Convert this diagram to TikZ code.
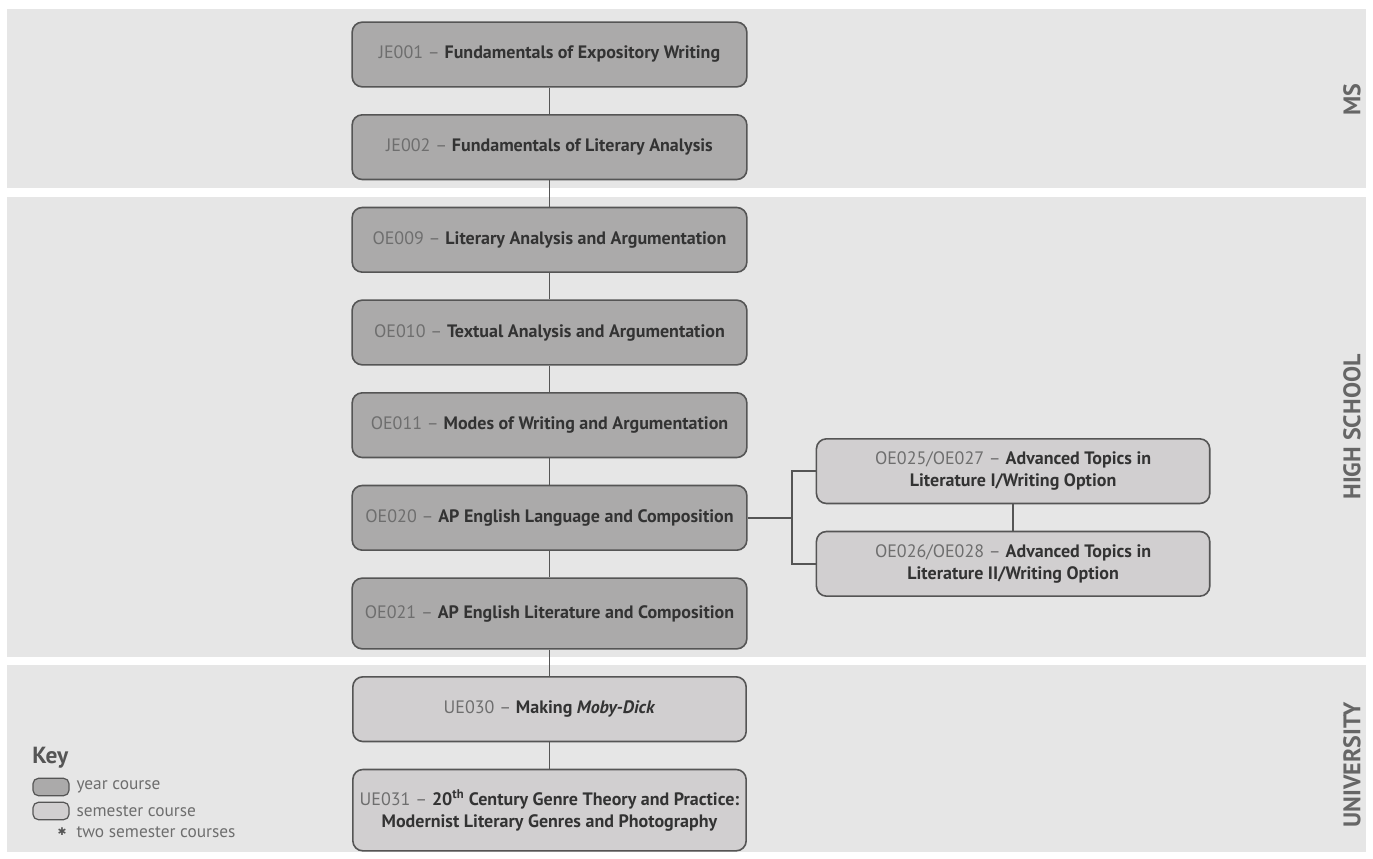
\documentclass[tikz,border=0pt]{standalone}
\usepackage{fontspec}
\setmainfont{PT Sans}
\newfontfamily\symfont{DejaVu Sans}
\usetikzlibrary{positioning}
\definecolor{band}{HTML}{E6E6E6}
\definecolor{yearfill}{HTML}{ABAAAA}
\definecolor{semfill}{HTML}{D1CFD0}
\definecolor{edgegray}{HTML}{555555}
\definecolor{codegray}{HTML}{6E6E6E}
\definecolor{titlegray}{HTML}{333333}

\begin{document}
\begin{tikzpicture}[
	x=0.75pt, y=-0.75pt,
	node distance=19.8pt and 51pt,
	course/.style = {draw=edgegray, line width=1.2pt, rounded corners=7.5pt,
		minimum width=296pt, minimum height=48.5pt, align=center,
		font=\fontsize{13.5}{16.5}\selectfont, text=titlegray},
	year/.style = {course, fill=yearfill},
	sem/.style = {course, fill=semfill, minimum width=295pt},
	link/.style = {draw=edgegray, line width=1.3pt},
	level/.style = {rotate=90, text=edgegray!90, font=\fontsize{18}{18}\selectfont\bfseries},
	keybox/.style = {draw=edgegray, line width=0.9pt, rounded corners=4pt,
		minimum width=27pt, minimum height=13pt, inner sep=0pt},
	keytext/.style = {text=codegray, anchor=west, inner sep=0pt,
		font=\fontsize{13}{15}\selectfont}
     ]
		\useasboundingbox (0,0) rectangle (1373,859);
		\fill[band] (7,9) rectangle (1366,188);
		\fill[band] (7,197) rectangle (1366,657);
		\fill[band] (7,665) rectangle (1366,852);
%
		\node[year] (je001) at (549.5,54.5)
			{\textcolor{codegray}{JE001 –} \textbf{Fundamentals of Expository Writing}};
		\node[year, below=of je001] (je002)
			{\textcolor{codegray}{JE002 –} \textbf{Fundamentals of Literary Analysis}};
		\node[year, below=of je002] (oe009)
			{\textcolor{codegray}{OE009 –} \textbf{Literary Analysis and Argumentation}};
		\node[year, below=of oe009] (oe010)
			{\textcolor{codegray}{OE010 –} \textbf{Textual Analysis and Argumentation}};
		\node[year, below=of oe010] (oe011)
			{\textcolor{codegray}{OE011 –} \textbf{Modes of Writing and Argumentation}};
		\node[year, below=of oe011] (oe020)
			{\textcolor{codegray}{OE020 –} \textbf{AP English Language and Composition}};
		\node[year, below=of oe020, minimum height=53pt] (oe021)
			{\textcolor{codegray}{OE021 –} \textbf{AP English Literature and Composition}};
		\node[sem, below=of oe021] (ue030)
			{\textcolor{codegray}{UE030 –} \textbf{Making \textit{Moby-Dick}}};
		\node[sem, below=of ue030, minimum height=61pt] (ue031)
			{\textcolor{codegray}{UE031 –} \textbf{20\textsuperscript{th} Century Genre Theory and Practice:}\\
			 \textbf{Modernist Literary Genres and Photography}};
%
		\node[sem, right=of oe020, yshift=35pt] (oe025)
			{\textcolor{codegray}{OE025/OE027 –} \textbf{Advanced Topics in}\\
			 \textbf{Literature I/Writing Option}};
		\node[sem, below=of oe025] (oe026)
			{\textcolor{codegray}{OE026/OE028 –} \textbf{Advanced Topics in}\\
			 \textbf{Literature II/Writing Option}};
%
		\foreach \a/\b in {je001/je002, je002/oe009, oe009/oe010, oe010/oe011,
			oe011/oe020, oe020/oe021, oe021/ue030, ue030/ue031, oe025/oe026}
			\draw[link] (\a) -- (\b);
		\coordinate[right=33pt of oe020.east] (fork);
		\draw[link] (oe020.east) -- (fork);
		\draw[link] (oe025.west) -| (fork) |- (oe026.west);
%
		\node[level] (ms) at (1352,100) {MS};
		\node[level] (hs) at (1352,427) {HIGH SCHOOL};
		\node[level] (uni) at (1352,765) {UNIVERSITY};
%
		\node[anchor=west, inner sep=0pt, text=edgegray,
			font=\fontsize{17.5}{17.5}\selectfont\bfseries] (key) at (32,758) {Key};
		\node[keybox, fill=yearfill] (kyear) at (51,787) {};
		\node[keybox, fill=semfill] (ksem) at (51,811) {};
		\node[keytext, right=5pt of kyear] (tyear) {year course};
		\node[keytext, right=5pt of ksem] (tsem) {semester course};
		\node[keytext, below=7pt of tsem.south west, anchor=north west] (ttwo) {two semester courses};
		\node[text=edgegray, inner sep=0pt, left=7pt of ttwo, font=\symfont\fontsize{8}{8}\selectfont] (star) {✱};
\end{tikzpicture}
\end{document}
